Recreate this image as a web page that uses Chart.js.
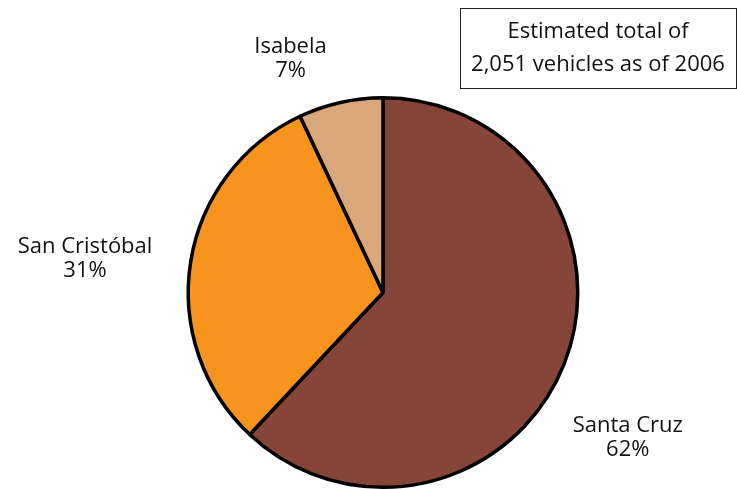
<!DOCTYPE html>
<html>
<head>
<meta charset="utf-8">
<script src="https://cdn.jsdelivr.net/npm/chart.js@4.4.0/dist/chart.umd.min.js"></script>
<style>
  html, body { margin: 0; padding: 0; background: #fff; }
  #wrap { position: relative; width: 737px; height: 489px; }
</style>
</head>
<body>
<div id="wrap"><canvas id="pieChart" width="737" height="489"></canvas></div>
<script>
// Vehicles by island, 2006 (percent of total)
const islands = ['Santa Cruz', 'San Cristóbal', 'Isabela'];
const shares = [62, 31, 7];
const sliceColors = ['#874438', '#F7941E', '#D9A77A'];
const noteLines = ['Estimated total of', '2,051 vehicles as of 2006'];

// label placement: angle offset (deg) from slice middle, distance as multiple of radius
const labelPlacement = [
  { dAngle: 9, dist: 1.46 },
  { dAngle: -2.5, dist: 1.54 },
  { dAngle: -9, dist: 1.29 }
];

const FONT = '22px "Open Sans", Lato, sans-serif';

const sliceLabels = {
  id: 'sliceLabels',
  afterDatasetsDraw(chart) {
    const ctx = chart.ctx;
    const arcs = chart.getDatasetMeta(0).data;
    ctx.save();
    ctx.font = FONT;
    ctx.fillStyle = '#111';
    ctx.textAlign = 'center';
    ctx.textBaseline = 'middle';
    arcs.forEach((arc, i) => {
      const p = labelPlacement[i];
      const mid = (arc.startAngle + arc.endAngle) / 2 + p.dAngle * Math.PI / 180;
      const r = arc.outerRadius * p.dist;
      const x = arc.x + Math.cos(mid) * r;
      const y = arc.y + Math.sin(mid) * r;
      ctx.fillText(islands[i], x, y - 12);
      ctx.fillText(shares[i] + '%', x, y + 12);
    });
    ctx.restore();
  }
};

const noteBox = {
  id: 'noteBox',
  afterDraw(chart) {
    const ctx = chart.ctx;
    ctx.save();
    ctx.strokeStyle = '#222';
    ctx.lineWidth = 1;
    ctx.strokeRect(460.5, 8.5, 276, 80);
    ctx.font = FONT;
    ctx.fillStyle = '#111';
    ctx.textAlign = 'center';
    ctx.textBaseline = 'middle';
    ctx.fillText(noteLines[0], 598, 32);
    ctx.fillText(noteLines[1], 598, 65);
    ctx.restore();
  }
};

new Chart(document.getElementById('pieChart').getContext('2d'), {
  type: 'pie',
  data: {
    labels: islands,
    datasets: [{
      data: shares,
      backgroundColor: sliceColors,
      borderColor: '#000',
      borderWidth: 3.5,
      hoverOffset: 0
    }]
  },
  options: {
    responsive: false,
    animation: false,
    layout: { padding: { top: 96, bottom: 0, left: 186, right: 157 } },
    plugins: {
      legend: { display: false },
      tooltip: { enabled: false }
    }
  },
  plugins: [sliceLabels, noteBox]
});
</script>
</body>
</html>
